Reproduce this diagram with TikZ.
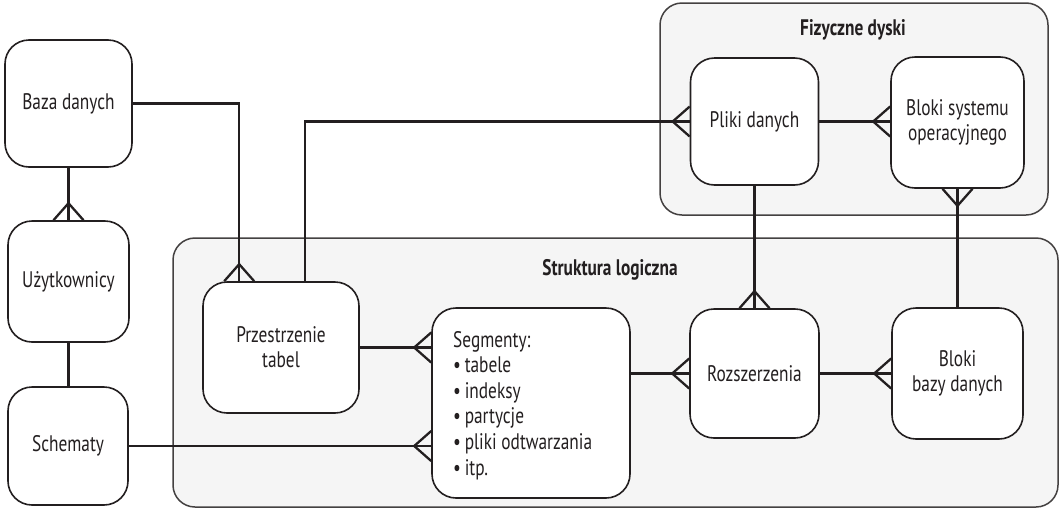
\documentclass[tikz,border=0pt]{standalone}
\usepackage{fontspec}
\setmainfont{PT Sans}[FakeStretch=0.77]
\usetikzlibrary{calc}
\definecolor{ink}{HTML}{231F20}
\definecolor{grp}{HTML}{F5F5F5}
\tikzset{
  box/.style={draw=ink, line width=1.6pt, fill=white, rounded corners=24pt,
    align=center, text=ink, font=\fontsize{22.5}{25}\selectfont, inner sep=0pt},
  group/.style={draw=ink!85, line width=1.5pt, fill=grp, rounded corners=22pt},
  grouplabel/.style={text=ink, font=\fontsize{22.5}{25}\selectfont\bfseries},
  conn/.style={draw=ink, line width=2.3pt},
  crowL/.pic={\draw[conn] (0,-15) -- (-17,0) -- (0,15);},
  crowT/.pic={\draw[conn] (-15,0) -- (0,-17) -- (15,0);},
  crowB/.pic={\draw[conn] (-15,0) -- (0,17) -- (15,0);}
}
\begin{document}
\begin{tikzpicture}[x=1pt,y=-1pt]
\useasboundingbox (0,0) rectangle (1060,509);
% containers
\draw[group] (660,3) rectangle (1048,215);
\draw[group] (173,238) rectangle (1058,507);
\node[grouplabel] (fizlabel) at (853,30) {Fizyczne dyski};
\node[grouplabel] (strlabel) at (610,270) {Struktura logiczna};
% boxes
\node[box, minimum width=127pt, minimum height=127pt] (baza) at (68.5,103.5) {Baza danych};
\node[box, minimum width=121pt, minimum height=121pt] (uzyt) at (68.5,281.5) {Użytkownicy};
\node[box, minimum width=120pt, minimum height=118pt] (schem) at (68,446) {Schematy};
\node[box, minimum width=156pt, minimum height=131pt] (przes) at (281,347.5) {Przestrzenie\\tabel};
\node[box, minimum width=198pt, minimum height=190pt] (segm) at (531,403) {};
\node[text=ink, font=\fontsize{22.5}{25.6}\selectfont, align=left, anchor=base west, inner sep=0pt]
  (segmtext) at (453,475) {Segmenty:\\•\,tabele\\•\,indeksy\\•\,partycje\\•\,pliki odtwarzania\\•\,itp.};
\node[box, minimum width=129pt, minimum height=129pt] (rozsz) at (754.5,373.5) {Rozszerzenia};
\node[box, minimum width=131pt, minimum height=131pt] (blokib) at (957.5,373.5) {Bloki\\bazy danych};
\node[box, minimum width=128pt, minimum height=127pt] (pliki) at (754.5,121.5) {Pliki danych};
\node[box, minimum width=133pt, minimum height=131pt] (bloks) at (957.5,122.5) {Bloki systemu\\operacyjnego};
% attachment points
\coordinate (przesA) at ($(przes.north west)+(37,0)$);
\coordinate (przesB) at ($(przes.north west)+(103,0)$);
% connectors
\draw[conn] (baza.east) -- (baza.east -| przesA) -- (przesA);
\pic at (przesA) {crowT};
\draw[conn] (przesB) -- (przesB |- pliki.west) -- (pliki.west);
\pic at (pliki.west) {crowL};
\draw[conn] (baza.south) -- (uzyt.north);
\pic at (uzyt.north) {crowT};
\draw[conn] (uzyt.south) -- (schem.north -| uzyt.south);
\draw[conn] (schem.east) -- (segm.west |- schem.east);
\pic at (segm.west |- schem.east) {crowL};
\draw[conn] (przes.east) -- (segm.west |- przes.east);
\pic at (segm.west |- przes.east) {crowL};
\draw[conn] (rozsz.west -| segm.east) -- (rozsz.west);
\pic at (rozsz.west) {crowL};
\draw[conn] (rozsz.east) -- (blokib.west);
\pic at (blokib.west) {crowL};
\draw[conn] (pliki.south) -- (rozsz.north);
\pic at (rozsz.north) {crowT};
\draw[conn] (pliki.east) -- (bloks.west |- pliki.east);
\pic at (bloks.west |- pliki.east) {crowL};
\draw[conn] (bloks.south) -- (blokib.north);
\pic at (bloks.south) {crowB};
\end{tikzpicture}
\end{document}
